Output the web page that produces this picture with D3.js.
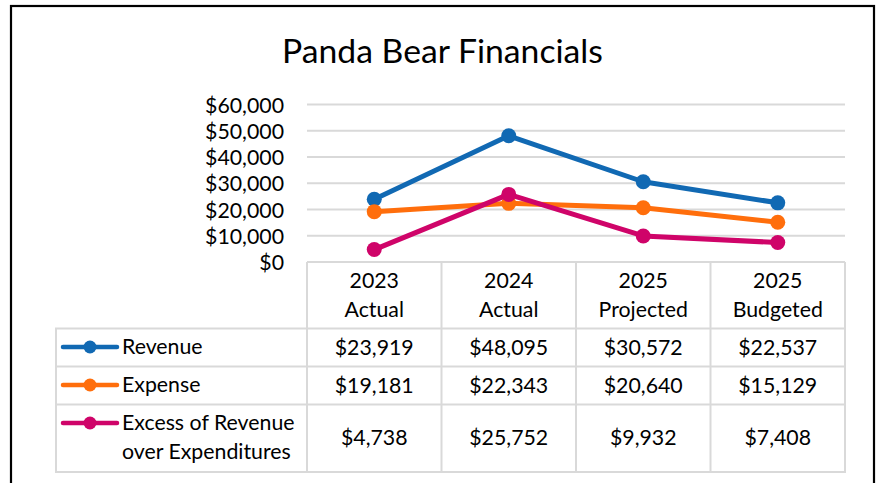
<!DOCTYPE html>
<html><head><meta charset="utf-8">
<script src="https://cdn.jsdelivr.net/npm/d3@7"></script>
<style>html,body{margin:0;padding:0;background:#fff;}svg{display:block;}text{font-family:Lato,"Open Sans",sans-serif;fill:#000;}</style>
</head><body>
<script>
const title = "Panda Bear Financials";
const categories = [["2023","Actual"],["2024","Actual"],["2025","Projected"],["2025","Budgeted"]];
const seriesNames = [["Revenue"],["Expense"],["Excess of Revenue","over Expenditures"]];
const revenue = [23919, 48095, 30572, 22537];
const expense = [19181, 22343, 20640, 15129];
const excess = [4738, 25752, 9932, 7408];
const yTicks = [0, 10000, 20000, 30000, 40000, 50000, 60000];
const colors = ["#1169b3", "#ff6e0c", "#cf0469"];

const W = 881, H = 483;
const svg = d3.select("body").append("svg").attr("width", W).attr("height", H);

// font fitting helper
function fitSize(str, targetW, family) {
  const t = svg.append("text").attr("font-size", 100).text(str);
  const w = t.node().getComputedTextLength();
  t.remove();
  return 100 * targetW / w;
}
const fs = fitSize("$60,000", 79);
const tfs = fitSize(title, 321);

// frame
svg.append("rect").attr("x", 11).attr("y", 6).attr("width", 863).attr("height", 520)
  .attr("fill", "none").attr("stroke", "#000").attr("stroke-width", 2.2);

// title
svg.append("text").attr("x", 442.5).attr("y", 62.5).attr("text-anchor", "middle")
  .attr("font-size", tfs).text(title);

const x = d3.scaleBand().domain(d3.range(categories.length)).range([307, 845]).padding(0);
const y = d3.scaleLinear().domain([0, 60000]).range([262, 104.5]);
const grid = "#d9d9d9";

// gridlines
svg.append("g").selectAll("line").data(yTicks).join("line")
  .attr("x1", x.range()[0]).attr("x2", x.range()[1])
  .attr("y1", d => y(d)).attr("y2", d => y(d))
  .attr("stroke", grid).attr("stroke-width", 2);

// y axis labels
const yAxis = d3.axisLeft(y).tickValues(yTicks).tickFormat(d3.format("$,")).tickSize(0).tickPadding(0);
const ya = svg.append("g").attr("transform", "translate(284,0)").call(yAxis);
ya.select(".domain").remove();
ya.selectAll("text").attr("font-size", fs).attr("font-family", "Lato").attr("fill", "#000").attr("dy", "0.36em");

// table
const tableLeft = 56;
const rowEdges = [262, 328.5, 366.5, 404.5, 472];
const tg = svg.append("g").attr("stroke", grid).attr("stroke-width", 2).attr("fill", "none");
// header row verticals (category columns only)
const colEdges = d3.range(categories.length + 1).map(i => i < categories.length ? x(i) : x.range()[1]);
colEdges.forEach(cx => tg.append("line").attr("x1", cx).attr("x2", cx).attr("y1", rowEdges[0]).attr("y2", rowEdges[4]));
tg.append("line").attr("x1", tableLeft).attr("x2", tableLeft).attr("y1", rowEdges[1]).attr("y2", rowEdges[4]);
rowEdges.slice(1).forEach(ry => tg.append("line").attr("x1", tableLeft - 1).attr("x2", x.range()[1] + 1).attr("y1", ry).attr("y2", ry));

// header text
const hdr = svg.append("g");
categories.forEach((c, i) => {
  hdr.append("text").attr("x", x(i) + x.bandwidth() / 2).attr("y", 288).attr("text-anchor", "middle").attr("font-size", fs).text(c[0]);
  hdr.append("text").attr("x", x(i) + x.bandwidth() / 2).attr("y", 317).attr("text-anchor", "middle").attr("font-size", fs).text(c[1]);
});

const allSeries = [revenue, expense, excess];
const valueBaselines = [354.5, 392.5, 445];
const legendMid = [347, 385, 423];
const legendBase = [[354], [392], [430, 459]];
const fmt = d3.format("$,");

allSeries.forEach((s, si) => {
  s.forEach((v, i) => {
    svg.append("text").attr("x", x(i) + x.bandwidth() / 2).attr("y", valueBaselines[si])
      .attr("text-anchor", "middle").attr("font-size", fs).text(fmt(v));
  });
  // legend key
  svg.append("line").attr("x1", 63).attr("x2", 117).attr("y1", legendMid[si]).attr("y2", legendMid[si])
    .attr("stroke", colors[si]).attr("stroke-width", 4.5).attr("stroke-linecap", "round");
  svg.append("circle").attr("cx", 90).attr("cy", legendMid[si]).attr("r", 6.5).attr("fill", colors[si]);
  seriesNames[si].forEach((ln, li) => {
    svg.append("text").attr("x", 122).attr("y", legendBase[si][li]).attr("font-size", fs).text(ln);
  });
});

// lines (draw in order: revenue, expense, excess on top)
const line = d3.line().x((d, i) => x(i) + x.bandwidth() / 2).y(d => y(d));
allSeries.forEach((s, si) => {
  const g = svg.append("g");
  g.append("path").attr("d", line(s)).attr("fill", "none").attr("stroke", colors[si])
    .attr("stroke-width", 5).attr("stroke-linejoin", "round").attr("stroke-linecap", "round");
  g.selectAll("circle").data(s).join("circle")
    .attr("cx", (d, i) => x(i) + x.bandwidth() / 2).attr("cy", d => y(d)).attr("r", 7.5).attr("fill", colors[si]);
});
</script>
</body></html>
